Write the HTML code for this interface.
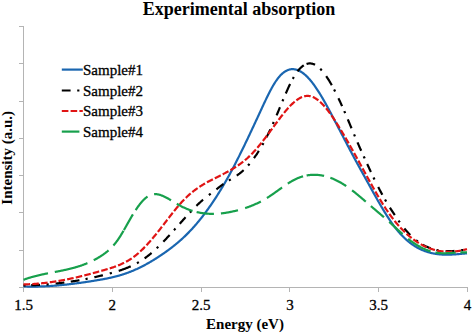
<!DOCTYPE html>
<html><head><meta charset="utf-8"><style>
html,body{margin:0;padding:0;background:#fff;width:472px;height:334px;overflow:hidden}
svg{display:block}
text{font-family:"Liberation Serif",serif}
.rt text{stroke:#000;stroke-width:0.3px;paint-order:stroke}
</style></head><body>
<svg width="472" height="334" viewBox="0 0 472 334">
<rect width="472" height="334" fill="#fff"/>
<text x="239.1" y="14.5" text-anchor="middle" font-weight="bold" font-size="18">Experimental absorption</text>
<g stroke="#b4b4b4" stroke-width="1" fill="none" shape-rendering="crispEdges">
<line x1="23.5" y1="26.5" x2="23.5" y2="287.5"/>
<line x1="23.5" y1="287.5" x2="467.5" y2="287.5"/>
<line x1="19" y1="26.50" x2="23.5" y2="26.50"/><line x1="19" y1="63.79" x2="23.5" y2="63.79"/><line x1="19" y1="101.07" x2="23.5" y2="101.07"/><line x1="19" y1="138.36" x2="23.5" y2="138.36"/><line x1="19" y1="175.64" x2="23.5" y2="175.64"/><line x1="19" y1="212.93" x2="23.5" y2="212.93"/><line x1="19" y1="250.21" x2="23.5" y2="250.21"/><line x1="19" y1="287.50" x2="23.5" y2="287.50"/><line x1="23.50" y1="287.5" x2="23.50" y2="292"/><line x1="112.30" y1="287.5" x2="112.30" y2="292"/><line x1="201.10" y1="287.5" x2="201.10" y2="292"/><line x1="289.90" y1="287.5" x2="289.90" y2="292"/><line x1="378.70" y1="287.5" x2="378.70" y2="292"/><line x1="467.50" y1="287.5" x2="467.50" y2="292"/>
</g>
<g class="rt" font-size="15" text-anchor="middle" fill="#000"><text x="23.50" y="310">1.5</text><text x="112.30" y="310">2</text><text x="201.10" y="310">2.5</text><text x="289.90" y="310">3</text><text x="378.70" y="310">3.5</text><text x="467.50" y="310">4</text></g>
<text x="245" y="329.2" text-anchor="middle" font-weight="bold" font-size="15">Energy (eV)</text>
<text transform="translate(12,157.8) rotate(-90)" text-anchor="middle" font-weight="bold" font-size="15">Intensity (a.u.)</text>
<g class="rt" font-size="15" fill="#000"><line x1="61.8" y1="69.6" x2="82.8" y2="69.6" stroke="#1a66b0" stroke-width="2.2"/><text x="83" y="75.0">Sample#1</text><line x1="61.8" y1="90.5" x2="82.8" y2="90.5" stroke="#000000" stroke-width="2.2" stroke-dasharray="8.8 6.6 2.2 6.6"/><text x="83" y="95.9">Sample#2</text><line x1="61.8" y1="111" x2="82.8" y2="111" stroke="#e01414" stroke-width="2.2" stroke-dasharray="6.6 2.2"/><text x="83" y="116.4">Sample#3</text><line x1="61.8" y1="131.6" x2="82.8" y2="131.6" stroke="#17a04c" stroke-width="2.2" stroke-dasharray="17.6 6.6"/><text x="83" y="137.0">Sample#4</text></g>
<g fill="none" stroke-width="2.2" stroke-linejoin="round">
<path d="M23.50,286.41 L24.00,286.43 L24.50,286.45 L25.00,286.46 L25.50,286.48 L26.00,286.50 L26.50,286.51 L27.00,286.52 L27.50,286.53 L28.00,286.54 L28.50,286.55 L29.00,286.56 L29.50,286.57 L30.00,286.57 L30.50,286.58 L31.00,286.58 L31.50,286.59 L32.00,286.59 L32.50,286.59 L33.00,286.59 L33.50,286.59 L34.00,286.59 L34.50,286.58 L35.00,286.58 L35.50,286.57 L36.00,286.57 L36.50,286.56 L37.00,286.55 L37.50,286.54 L38.00,286.53 L38.50,286.52 L39.00,286.51 L39.50,286.50 L40.00,286.48 L40.50,286.47 L41.00,286.45 L41.50,286.43 L42.00,286.42 L42.50,286.40 L43.00,286.38 L43.50,286.36 L44.00,286.34 L44.50,286.31 L45.00,286.29 L45.50,286.27 L46.00,286.24 L46.50,286.22 L47.00,286.19 L47.50,286.16 L48.00,286.14 L48.50,286.11 L49.00,286.08 L49.50,286.05 L50.00,286.01 L50.50,285.98 L51.00,285.95 L51.50,285.91 L52.00,285.88 L52.50,285.84 L53.00,285.81 L53.50,285.77 L54.00,285.73 L54.50,285.69 L55.00,285.66 L55.50,285.62 L56.00,285.57 L56.50,285.53 L57.00,285.49 L57.50,285.45 L58.00,285.40 L58.50,285.36 L59.00,285.31 L59.50,285.27 L60.00,285.22 L60.50,285.17 L61.00,285.13 L61.50,285.08 L62.00,285.03 L62.50,284.98 L63.00,284.93 L63.50,284.88 L64.00,284.83 L64.50,284.77 L65.00,284.72 L65.50,284.67 L66.00,284.61 L66.50,284.56 L67.00,284.50 L67.50,284.44 L68.00,284.39 L68.50,284.33 L69.00,284.27 L69.50,284.21 L70.00,284.15 L70.50,284.10 L71.00,284.03 L71.50,283.97 L72.00,283.91 L72.50,283.85 L73.00,283.79 L73.50,283.73 L74.00,283.66 L74.50,283.60 L75.00,283.53 L75.50,283.47 L76.00,283.40 L76.50,283.34 L77.00,283.27 L77.50,283.20 L78.00,283.14 L78.50,283.07 L79.00,283.00 L79.50,282.93 L80.00,282.86 L80.50,282.79 L81.00,282.72 L81.50,282.65 L82.00,282.58 L82.50,282.51 L83.00,282.44 L83.50,282.37 L84.00,282.29 L84.50,282.22 L85.00,282.15 L85.50,282.07 L86.00,282.00 L86.50,281.92 L87.00,281.85 L87.50,281.78 L88.00,281.70 L88.50,281.62 L89.00,281.55 L89.50,281.47 L90.00,281.39 L90.50,281.32 L91.00,281.24 L91.50,281.16 L92.00,281.08 L92.50,281.01 L93.00,280.93 L93.50,280.85 L94.00,280.77 L94.50,280.69 L95.00,280.61 L95.50,280.53 L96.00,280.45 L96.50,280.36 L97.00,280.28 L97.50,280.20 L98.00,280.12 L98.50,280.03 L99.00,279.95 L99.50,279.86 L100.00,279.77 L100.50,279.69 L101.00,279.60 L101.50,279.51 L102.00,279.42 L102.50,279.33 L103.00,279.24 L103.50,279.14 L104.00,279.05 L104.50,278.95 L105.00,278.86 L105.50,278.76 L106.00,278.66 L106.50,278.56 L107.00,278.46 L107.50,278.36 L108.00,278.25 L108.50,278.15 L109.00,278.04 L109.50,277.93 L110.00,277.83 L110.50,277.71 L111.00,277.60 L111.50,277.49 L112.00,277.37 L112.50,277.26 L113.00,277.14 L113.50,277.02 L114.00,276.90 L114.50,276.77 L115.00,276.65 L115.50,276.52 L116.00,276.39 L116.50,276.26 L117.00,276.13 L117.50,275.99 L118.00,275.85 L118.50,275.72 L119.00,275.58 L119.50,275.43 L120.00,275.29 L120.50,275.14 L121.00,274.99 L121.50,274.84 L122.00,274.69 L122.50,274.53 L123.00,274.37 L123.50,274.21 L124.00,274.05 L124.50,273.88 L125.00,273.71 L125.50,273.54 L126.00,273.37 L126.50,273.20 L127.00,273.02 L127.50,272.84 L128.00,272.66 L128.50,272.47 L129.00,272.28 L129.50,272.09 L130.00,271.90 L130.50,271.70 L131.00,271.50 L131.50,271.30 L132.00,271.10 L132.50,270.89 L133.00,270.68 L133.50,270.47 L134.00,270.25 L134.50,270.04 L135.00,269.82 L135.50,269.60 L136.00,269.37 L136.50,269.14 L137.00,268.92 L137.50,268.68 L138.00,268.45 L138.50,268.21 L139.00,267.97 L139.50,267.73 L140.00,267.49 L140.50,267.24 L141.00,266.99 L141.50,266.74 L142.00,266.49 L142.50,266.23 L143.00,265.97 L143.50,265.71 L144.00,265.45 L144.50,265.18 L145.00,264.92 L145.50,264.65 L146.00,264.38 L146.50,264.10 L147.00,263.82 L147.50,263.54 L148.00,263.26 L148.50,262.98 L149.00,262.69 L149.50,262.41 L150.00,262.12 L150.50,261.82 L151.00,261.53 L151.50,261.23 L152.00,260.93 L152.50,260.63 L153.00,260.33 L153.50,260.02 L154.00,259.72 L154.50,259.41 L155.00,259.10 L155.50,258.78 L156.00,258.47 L156.50,258.15 L157.00,257.83 L157.50,257.51 L158.00,257.18 L158.50,256.86 L159.00,256.53 L159.50,256.20 L160.00,255.87 L160.50,255.53 L161.00,255.20 L161.50,254.86 L162.00,254.52 L162.50,254.18 L163.00,253.83 L163.50,253.49 L164.00,253.14 L164.50,252.79 L165.00,252.44 L165.50,252.08 L166.00,251.73 L166.50,251.37 L167.00,251.01 L167.50,250.65 L168.00,250.28 L168.50,249.92 L169.00,249.55 L169.50,249.18 L170.00,248.80 L170.50,248.43 L171.00,248.05 L171.50,247.66 L172.00,247.28 L172.50,246.89 L173.00,246.50 L173.50,246.11 L174.00,245.71 L174.50,245.31 L175.00,244.91 L175.50,244.50 L176.00,244.09 L176.50,243.68 L177.00,243.26 L177.50,242.84 L178.00,242.42 L178.50,241.99 L179.00,241.56 L179.50,241.13 L180.00,240.69 L180.50,240.25 L181.00,239.81 L181.50,239.36 L182.00,238.91 L182.50,238.45 L183.00,237.99 L183.50,237.52 L184.00,237.05 L184.50,236.58 L185.00,236.10 L185.50,235.62 L186.00,235.14 L186.50,234.64 L187.00,234.15 L187.50,233.65 L188.00,233.15 L188.50,232.64 L189.00,232.12 L189.50,231.60 L190.00,231.08 L190.50,230.55 L191.00,230.02 L191.50,229.48 L192.00,228.94 L192.50,228.39 L193.00,227.84 L193.50,227.28 L194.00,226.72 L194.50,226.16 L195.00,225.58 L195.50,225.01 L196.00,224.43 L196.50,223.84 L197.00,223.25 L197.50,222.66 L198.00,222.06 L198.50,221.46 L199.00,220.85 L199.50,220.23 L200.00,219.61 L200.50,218.99 L201.00,218.36 L201.50,217.73 L202.00,217.09 L202.50,216.45 L203.00,215.80 L203.50,215.15 L204.00,214.50 L204.50,213.83 L205.00,213.17 L205.50,212.50 L206.00,211.82 L206.50,211.14 L207.00,210.46 L207.50,209.77 L208.00,209.07 L208.50,208.37 L209.00,207.67 L209.50,206.96 L210.00,206.25 L210.50,205.53 L211.00,204.80 L211.50,204.08 L212.00,203.34 L212.50,202.61 L213.00,201.86 L213.50,201.12 L214.00,200.37 L214.50,199.61 L215.00,198.85 L215.50,198.08 L216.00,197.31 L216.50,196.54 L217.00,195.75 L217.50,194.97 L218.00,194.18 L218.50,193.38 L219.00,192.58 L219.50,191.78 L220.00,190.97 L220.50,190.15 L221.00,189.33 L221.50,188.51 L222.00,187.68 L222.50,186.84 L223.00,186.00 L223.50,185.16 L224.00,184.30 L224.50,183.45 L225.00,182.59 L225.50,181.72 L226.00,180.85 L226.50,179.97 L227.00,179.09 L227.50,178.20 L228.00,177.31 L228.50,176.41 L229.00,175.51 L229.50,174.60 L230.00,173.69 L230.50,172.77 L231.00,171.84 L231.50,170.91 L232.00,169.98 L232.50,169.04 L233.00,168.09 L233.50,167.14 L234.00,166.18 L234.50,165.22 L235.00,164.25 L235.50,163.28 L236.00,162.31 L236.50,161.33 L237.00,160.34 L237.50,159.36 L238.00,158.37 L238.50,157.37 L239.00,156.37 L239.50,155.37 L240.00,154.36 L240.50,153.35 L241.00,152.34 L241.50,151.32 L242.00,150.30 L242.50,149.28 L243.00,148.26 L243.50,147.23 L244.00,146.20 L244.50,145.16 L245.00,144.13 L245.50,143.09 L246.00,142.05 L246.50,141.00 L247.00,139.96 L247.50,138.91 L248.00,137.86 L248.50,136.81 L249.00,135.75 L249.50,134.70 L250.00,133.64 L250.50,132.58 L251.00,131.52 L251.50,130.46 L252.00,129.39 L252.50,128.33 L253.00,127.26 L253.50,126.19 L254.00,125.12 L254.50,124.05 L255.00,122.97 L255.50,121.90 L256.00,120.83 L256.50,119.75 L257.00,118.67 L257.50,117.60 L258.00,116.52 L258.50,115.44 L259.00,114.36 L259.50,113.28 L260.00,112.20 L260.50,111.12 L261.00,110.04 L261.50,108.96 L262.00,107.88 L262.50,106.80 L263.00,105.72 L263.50,104.65 L264.00,103.58 L264.50,102.51 L265.00,101.45 L265.50,100.40 L266.00,99.35 L266.50,98.31 L267.00,97.28 L267.50,96.25 L268.00,95.24 L268.50,94.24 L269.00,93.25 L269.50,92.27 L270.00,91.30 L270.50,90.35 L271.00,89.41 L271.50,88.49 L272.00,87.58 L272.50,86.70 L273.00,85.82 L273.50,84.97 L274.00,84.14 L274.50,83.32 L275.00,82.53 L275.50,81.76 L276.00,81.01 L276.50,80.28 L277.00,79.57 L277.50,78.90 L278.00,78.24 L278.50,77.61 L279.00,77.01 L279.50,76.42 L280.00,75.86 L280.50,75.33 L281.00,74.82 L281.50,74.33 L282.00,73.87 L282.50,73.42 L283.00,73.00 L283.50,72.61 L284.00,72.23 L284.50,71.88 L285.00,71.55 L285.50,71.24 L286.00,70.96 L286.50,70.69 L287.00,70.45 L287.50,70.23 L288.00,70.03 L288.50,69.85 L289.00,69.69 L289.50,69.56 L290.00,69.44 L290.50,69.34 L291.00,69.27 L291.50,69.21 L292.00,69.18 L292.50,69.16 L293.00,69.17 L293.50,69.19 L294.00,69.23 L294.50,69.29 L295.00,69.37 L295.50,69.47 L296.00,69.59 L296.50,69.73 L297.00,69.88 L297.50,70.06 L298.00,70.25 L298.50,70.46 L299.00,70.68 L299.50,70.93 L300.00,71.19 L300.50,71.47 L301.00,71.76 L301.50,72.08 L302.00,72.41 L302.50,72.75 L303.00,73.12 L303.50,73.50 L304.00,73.89 L304.50,74.30 L305.00,74.73 L305.50,75.17 L306.00,75.63 L306.50,76.10 L307.00,76.59 L307.50,77.10 L308.00,77.62 L308.50,78.15 L309.00,78.70 L309.50,79.26 L310.00,79.84 L310.50,80.43 L311.00,81.03 L311.50,81.65 L312.00,82.28 L312.50,82.93 L313.00,83.58 L313.50,84.25 L314.00,84.94 L314.50,85.63 L315.00,86.34 L315.50,87.05 L316.00,87.78 L316.50,88.52 L317.00,89.27 L317.50,90.03 L318.00,90.80 L318.50,91.58 L319.00,92.37 L319.50,93.17 L320.00,93.98 L320.50,94.80 L321.00,95.62 L321.50,96.46 L322.00,97.30 L322.50,98.15 L323.00,99.01 L323.50,99.87 L324.00,100.74 L324.50,101.62 L325.00,102.51 L325.50,103.40 L326.00,104.30 L326.50,105.20 L327.00,106.11 L327.50,107.02 L328.00,107.94 L328.50,108.86 L329.00,109.79 L329.50,110.72 L330.00,111.66 L330.50,112.60 L331.00,113.54 L331.50,114.49 L332.00,115.44 L332.50,116.39 L333.00,117.34 L333.50,118.30 L334.00,119.25 L334.50,120.21 L335.00,121.17 L335.50,122.13 L336.00,123.09 L336.50,124.06 L337.00,125.02 L337.50,125.98 L338.00,126.94 L338.50,127.91 L339.00,128.87 L339.50,129.83 L340.00,130.79 L340.50,131.76 L341.00,132.72 L341.50,133.68 L342.00,134.64 L342.50,135.60 L343.00,136.56 L343.50,137.52 L344.00,138.48 L344.50,139.44 L345.00,140.40 L345.50,141.36 L346.00,142.31 L346.50,143.27 L347.00,144.22 L347.50,145.17 L348.00,146.13 L348.50,147.08 L349.00,148.02 L349.50,148.97 L350.00,149.92 L350.50,150.86 L351.00,151.81 L351.50,152.75 L352.00,153.69 L352.50,154.63 L353.00,155.56 L353.50,156.50 L354.00,157.43 L354.50,158.36 L355.00,159.29 L355.50,160.22 L356.00,161.14 L356.50,162.06 L357.00,162.98 L357.50,163.90 L358.00,164.82 L358.50,165.73 L359.00,166.64 L359.50,167.55 L360.00,168.46 L360.50,169.36 L361.00,170.27 L361.50,171.17 L362.00,172.08 L362.50,172.98 L363.00,173.88 L363.50,174.78 L364.00,175.68 L364.50,176.58 L365.00,177.49 L365.50,178.39 L366.00,179.29 L366.50,180.20 L367.00,181.10 L367.50,182.01 L368.00,182.91 L368.50,183.82 L369.00,184.73 L369.50,185.63 L370.00,186.54 L370.50,187.44 L371.00,188.35 L371.50,189.25 L372.00,190.15 L372.50,191.05 L373.00,191.95 L373.50,192.85 L374.00,193.75 L374.50,194.64 L375.00,195.53 L375.50,196.42 L376.00,197.31 L376.50,198.20 L377.00,199.08 L377.50,199.96 L378.00,200.83 L378.50,201.70 L379.00,202.57 L379.50,203.44 L380.00,204.30 L380.50,205.15 L381.00,206.00 L381.50,206.85 L382.00,207.70 L382.50,208.53 L383.00,209.37 L383.50,210.19 L384.00,211.02 L384.50,211.83 L385.00,212.64 L385.50,213.45 L386.00,214.25 L386.50,215.04 L387.00,215.83 L387.50,216.61 L388.00,217.38 L388.50,218.14 L389.00,218.90 L389.50,219.65 L390.00,220.40 L390.50,221.13 L391.00,221.86 L391.50,222.58 L392.00,223.29 L392.50,223.99 L393.00,224.69 L393.50,225.37 L394.00,226.05 L394.50,226.72 L395.00,227.37 L395.50,228.02 L396.00,228.66 L396.50,229.29 L397.00,229.91 L397.50,230.52 L398.00,231.11 L398.50,231.70 L399.00,232.28 L399.50,232.85 L400.00,233.42 L400.50,233.97 L401.00,234.51 L401.50,235.04 L402.00,235.57 L402.50,236.08 L403.00,236.59 L403.50,237.09 L404.00,237.58 L404.50,238.06 L405.00,238.53 L405.50,238.99 L406.00,239.44 L406.50,239.89 L407.00,240.33 L407.50,240.76 L408.00,241.18 L408.50,241.59 L409.00,242.00 L409.50,242.39 L410.00,242.78 L410.50,243.16 L411.00,243.54 L411.50,243.90 L412.00,244.26 L412.50,244.61 L413.00,244.95 L413.50,245.29 L414.00,245.62 L414.50,245.94 L415.00,246.25 L415.50,246.56 L416.00,246.86 L416.50,247.15 L417.00,247.44 L417.50,247.72 L418.00,247.99 L418.50,248.26 L419.00,248.52 L419.50,248.77 L420.00,249.02 L420.50,249.26 L421.00,249.49 L421.50,249.72 L422.00,249.94 L422.50,250.15 L423.00,250.36 L423.50,250.57 L424.00,250.76 L424.50,250.95 L425.00,251.14 L425.50,251.32 L426.00,251.50 L426.50,251.66 L427.00,251.83 L427.50,251.99 L428.00,252.14 L428.50,252.29 L429.00,252.43 L429.50,252.56 L430.00,252.70 L430.50,252.82 L431.00,252.95 L431.50,253.06 L432.00,253.18 L432.50,253.28 L433.00,253.39 L433.50,253.49 L434.00,253.58 L434.50,253.67 L435.00,253.75 L435.50,253.83 L436.00,253.91 L436.50,253.98 L437.00,254.05 L437.50,254.12 L438.00,254.18 L438.50,254.23 L439.00,254.29 L439.50,254.34 L440.00,254.38 L440.50,254.42 L441.00,254.46 L441.50,254.50 L442.00,254.53 L442.50,254.55 L443.00,254.58 L443.50,254.60 L444.00,254.62 L444.50,254.63 L445.00,254.65 L445.50,254.66 L446.00,254.66 L446.50,254.67 L447.00,254.67 L447.50,254.67 L448.00,254.66 L448.50,254.66 L449.00,254.65 L449.50,254.64 L450.00,254.62 L450.50,254.61 L451.00,254.59 L451.50,254.57 L452.00,254.55 L452.50,254.52 L453.00,254.49 L453.50,254.47 L454.00,254.44 L454.50,254.41 L455.00,254.37 L455.50,254.34 L456.00,254.30 L456.50,254.27 L457.00,254.23 L457.50,254.19 L458.00,254.15 L458.50,254.10 L459.00,254.06 L459.50,254.02 L460.00,253.97 L460.50,253.93 L461.00,253.88 L461.50,253.83 L462.00,253.78 L462.50,253.74 L463.00,253.69 L463.50,253.64 L464.00,253.59 L464.50,253.54 L465.00,253.49 L465.50,253.44 L466.00,253.39 L466.50,253.34 L467.00,253.29" stroke="#1a66b0"/>
<path d="M23.50,285.34 L24.00,285.34 L24.50,285.33 L25.00,285.33 L25.50,285.32 L26.00,285.32 L26.50,285.31 L27.00,285.30 L27.50,285.29 L28.00,285.29 L28.50,285.28 L29.00,285.26 L29.50,285.25 L30.00,285.24 L30.50,285.23 L31.00,285.21 L31.50,285.20 L32.00,285.18 L32.50,285.17 L33.00,285.15 L33.50,285.13 L34.00,285.11 L34.50,285.09 L35.00,285.07 L35.50,285.05 L36.00,285.03 L36.50,285.01 L37.00,284.99 L37.50,284.96 L38.00,284.94 L38.50,284.91 L39.00,284.89 L39.50,284.86 L40.00,284.83 L40.50,284.80 L41.00,284.77 L41.50,284.74 L42.00,284.71 L42.50,284.68 L43.00,284.65 L43.50,284.61 L44.00,284.58 L44.50,284.55 L45.00,284.51 L45.50,284.47 L46.00,284.44 L46.50,284.40 L47.00,284.36 L47.50,284.32 L48.00,284.28 L48.50,284.24 L49.00,284.20 L49.50,284.15 L50.00,284.11 L50.50,284.07 L51.00,284.02 L51.50,283.98 L52.00,283.93 L52.50,283.88 L53.00,283.84 L53.50,283.79 L54.00,283.74 L54.50,283.69 L55.00,283.64 L55.50,283.59 L56.00,283.53 L56.50,283.48 L57.00,283.43 L57.50,283.37 L58.00,283.32 L58.50,283.26 L59.00,283.20 L59.50,283.14 L60.00,283.09 L60.50,283.03 L61.00,282.97 L61.50,282.90 L62.00,282.84 L62.50,282.78 L63.00,282.72 L63.50,282.65 L64.00,282.59 L64.50,282.52 L65.00,282.46 L65.50,282.39 L66.00,282.32 L66.50,282.25 L67.00,282.18 L67.50,282.11 L68.00,282.04 L68.50,281.97 L69.00,281.90 L69.50,281.83 L70.00,281.75 L70.50,281.68 L71.00,281.60 L71.50,281.53 L72.00,281.45 L72.50,281.37 L73.00,281.29 L73.50,281.21 L74.00,281.13 L74.50,281.05 L75.00,280.97 L75.50,280.89 L76.00,280.81 L76.50,280.72 L77.00,280.64 L77.50,280.55 L78.00,280.47 L78.50,280.38 L79.00,280.29 L79.50,280.20 L80.00,280.11 L80.50,280.02 L81.00,279.93 L81.50,279.84 L82.00,279.75 L82.50,279.66 L83.00,279.56 L83.50,279.47 L84.00,279.37 L84.50,279.28 L85.00,279.18 L85.50,279.08 L86.00,278.98 L86.50,278.88 L87.00,278.78 L87.50,278.68 L88.00,278.58 L88.50,278.48 L89.00,278.38 L89.50,278.27 L90.00,278.17 L90.50,278.06 L91.00,277.96 L91.50,277.85 L92.00,277.74 L92.50,277.63 L93.00,277.53 L93.50,277.42 L94.00,277.30 L94.50,277.19 L95.00,277.08 L95.50,276.97 L96.00,276.86 L96.50,276.74 L97.00,276.63 L97.50,276.51 L98.00,276.39 L98.50,276.28 L99.00,276.16 L99.50,276.04 L100.00,275.92 L100.50,275.80 L101.00,275.68 L101.50,275.56 L102.00,275.43 L102.50,275.31 L103.00,275.18 L103.50,275.06 L104.00,274.93 L104.50,274.81 L105.00,274.68 L105.50,274.55 L106.00,274.42 L106.50,274.29 L107.00,274.16 L107.50,274.03 L108.00,273.90 L108.50,273.77 L109.00,273.63 L109.50,273.50 L110.00,273.37 L110.50,273.23 L111.00,273.09 L111.50,272.96 L112.00,272.82 L112.50,272.68 L113.00,272.54 L113.50,272.40 L114.00,272.26 L114.50,272.11 L115.00,271.97 L115.50,271.82 L116.00,271.67 L116.50,271.52 L117.00,271.37 L117.50,271.22 L118.00,271.06 L118.50,270.91 L119.00,270.75 L119.50,270.59 L120.00,270.43 L120.50,270.26 L121.00,270.09 L121.50,269.92 L122.00,269.75 L122.50,269.58 L123.00,269.40 L123.50,269.22 L124.00,269.04 L124.50,268.86 L125.00,268.67 L125.50,268.48 L126.00,268.29 L126.50,268.09 L127.00,267.89 L127.50,267.69 L128.00,267.49 L128.50,267.28 L129.00,267.07 L129.50,266.85 L130.00,266.63 L130.50,266.41 L131.00,266.18 L131.50,265.96 L132.00,265.72 L132.50,265.48 L133.00,265.24 L133.50,265.00 L134.00,264.75 L134.50,264.50 L135.00,264.24 L135.50,263.98 L136.00,263.71 L136.50,263.44 L137.00,263.17 L137.50,262.89 L138.00,262.60 L138.50,262.31 L139.00,262.02 L139.50,261.72 L140.00,261.42 L140.50,261.11 L141.00,260.80 L141.50,260.48 L142.00,260.15 L142.50,259.82 L143.00,259.49 L143.50,259.15 L144.00,258.80 L144.50,258.45 L145.00,258.10 L145.50,257.74 L146.00,257.37 L146.50,256.99 L147.00,256.62 L147.50,256.23 L148.00,255.84 L148.50,255.45 L149.00,255.05 L149.50,254.64 L150.00,254.23 L150.50,253.81 L151.00,253.39 L151.50,252.97 L152.00,252.54 L152.50,252.11 L153.00,251.67 L153.50,251.22 L154.00,250.78 L154.50,250.32 L155.00,249.87 L155.50,249.41 L156.00,248.94 L156.50,248.47 L157.00,248.00 L157.50,247.53 L158.00,247.05 L158.50,246.56 L159.00,246.07 L159.50,245.58 L160.00,245.09 L160.50,244.59 L161.00,244.09 L161.50,243.59 L162.00,243.08 L162.50,242.57 L163.00,242.06 L163.50,241.54 L164.00,241.03 L164.50,240.50 L165.00,239.98 L165.50,239.45 L166.00,238.93 L166.50,238.39 L167.00,237.86 L167.50,237.33 L168.00,236.79 L168.50,236.25 L169.00,235.71 L169.50,235.16 L170.00,234.62 L170.50,234.07 L171.00,233.52 L171.50,232.97 L172.00,232.42 L172.50,231.87 L173.00,231.31 L173.50,230.76 L174.00,230.20 L174.50,229.64 L175.00,229.09 L175.50,228.53 L176.00,227.97 L176.50,227.40 L177.00,226.84 L177.50,226.28 L178.00,225.72 L178.50,225.16 L179.00,224.59 L179.50,224.03 L180.00,223.47 L180.50,222.91 L181.00,222.35 L181.50,221.78 L182.00,221.22 L182.50,220.66 L183.00,220.11 L183.50,219.55 L184.00,218.99 L184.50,218.44 L185.00,217.88 L185.50,217.33 L186.00,216.78 L186.50,216.23 L187.00,215.68 L187.50,215.13 L188.00,214.59 L188.50,214.05 L189.00,213.51 L189.50,212.97 L190.00,212.44 L190.50,211.91 L191.00,211.38 L191.50,210.85 L192.00,210.33 L192.50,209.81 L193.00,209.29 L193.50,208.78 L194.00,208.26 L194.50,207.76 L195.00,207.25 L195.50,206.75 L196.00,206.26 L196.50,205.77 L197.00,205.28 L197.50,204.80 L198.00,204.32 L198.50,203.84 L199.00,203.37 L199.50,202.91 L200.00,202.45 L200.50,201.99 L201.00,201.54 L201.50,201.10 L202.00,200.66 L202.50,200.22 L203.00,199.79 L203.50,199.37 L204.00,198.95 L204.50,198.54 L205.00,198.13 L205.50,197.73 L206.00,197.33 L206.50,196.93 L207.00,196.54 L207.50,196.15 L208.00,195.76 L208.50,195.38 L209.00,195.00 L209.50,194.62 L210.00,194.24 L210.50,193.86 L211.00,193.48 L211.50,193.11 L212.00,192.73 L212.50,192.36 L213.00,191.98 L213.50,191.60 L214.00,191.22 L214.50,190.84 L215.00,190.46 L215.50,190.08 L216.00,189.69 L216.50,189.30 L217.00,188.91 L217.50,188.51 L218.00,188.12 L218.50,187.72 L219.00,187.32 L219.50,186.93 L220.00,186.54 L220.50,186.15 L221.00,185.77 L221.50,185.40 L222.00,185.03 L222.50,184.67 L223.00,184.31 L223.50,183.97 L224.00,183.63 L224.50,183.29 L225.00,182.96 L225.50,182.63 L226.00,182.31 L226.50,181.99 L227.00,181.68 L227.50,181.37 L228.00,181.06 L228.50,180.75 L229.00,180.44 L229.50,180.14 L230.00,179.84 L230.50,179.53 L231.00,179.23 L231.50,178.92 L232.00,178.62 L232.50,178.31 L233.00,178.00 L233.50,177.69 L234.00,177.37 L234.50,177.06 L235.00,176.73 L235.50,176.41 L236.00,176.08 L236.50,175.74 L237.00,175.40 L237.50,175.05 L238.00,174.70 L238.50,174.34 L239.00,173.97 L239.50,173.60 L240.00,173.21 L240.50,172.82 L241.00,172.42 L241.50,172.01 L242.00,171.59 L242.50,171.16 L243.00,170.71 L243.50,170.26 L244.00,169.80 L244.50,169.32 L245.00,168.83 L245.50,168.33 L246.00,167.82 L246.50,167.29 L247.00,166.76 L247.50,166.21 L248.00,165.65 L248.50,165.09 L249.00,164.51 L249.50,163.91 L250.00,163.31 L250.50,162.70 L251.00,162.07 L251.50,161.44 L252.00,160.79 L252.50,160.14 L253.00,159.47 L253.50,158.79 L254.00,158.10 L254.50,157.41 L255.00,156.70 L255.50,155.98 L256.00,155.25 L256.50,154.51 L257.00,153.77 L257.50,153.01 L258.00,152.24 L258.50,151.46 L259.00,150.67 L259.50,149.87 L260.00,149.05 L260.50,148.23 L261.00,147.39 L261.50,146.54 L262.00,145.68 L262.50,144.80 L263.00,143.92 L263.50,143.02 L264.00,142.10 L264.50,141.18 L265.00,140.24 L265.50,139.29 L266.00,138.33 L266.50,137.36 L267.00,136.37 L267.50,135.37 L268.00,134.37 L268.50,133.34 L269.00,132.31 L269.50,131.27 L270.00,130.21 L270.50,129.15 L271.00,128.07 L271.50,126.99 L272.00,125.89 L272.50,124.78 L273.00,123.66 L273.50,122.53 L274.00,121.39 L274.50,120.24 L275.00,119.09 L275.50,117.92 L276.00,116.75 L276.50,115.57 L277.00,114.39 L277.50,113.20 L278.00,112.00 L278.50,110.81 L279.00,109.61 L279.50,108.41 L280.00,107.20 L280.50,106.00 L281.00,104.80 L281.50,103.60 L282.00,102.40 L282.50,101.20 L283.00,100.01 L283.50,98.82 L284.00,97.64 L284.50,96.46 L285.00,95.29 L285.50,94.14 L286.00,92.99 L286.50,91.85 L287.00,90.72 L287.50,89.60 L288.00,88.50 L288.50,87.41 L289.00,86.34 L289.50,85.28 L290.00,84.24 L290.50,83.22 L291.00,82.22 L291.50,81.24 L292.00,80.28 L292.50,79.35 L293.00,78.43 L293.50,77.55 L294.00,76.69 L294.50,75.86 L295.00,75.05 L295.50,74.27 L296.00,73.52 L296.50,72.80 L297.00,72.11 L297.50,71.44 L298.00,70.80 L298.50,70.18 L299.00,69.59 L299.50,69.03 L300.00,68.50 L300.50,67.99 L301.00,67.51 L301.50,67.06 L302.00,66.64 L302.50,66.24 L303.00,65.86 L303.50,65.52 L304.00,65.20 L304.50,64.91 L305.00,64.64 L305.50,64.40 L306.00,64.19 L306.50,64.00 L307.00,63.84 L307.50,63.71 L308.00,63.60 L308.50,63.52 L309.00,63.46 L309.50,63.43 L310.00,63.43 L310.50,63.45 L311.00,63.50 L311.50,63.58 L312.00,63.68 L312.50,63.80 L313.00,63.95 L313.50,64.13 L314.00,64.33 L314.50,64.56 L315.00,64.81 L315.50,65.08 L316.00,65.38 L316.50,65.71 L317.00,66.05 L317.50,66.42 L318.00,66.81 L318.50,67.22 L319.00,67.65 L319.50,68.11 L320.00,68.59 L320.50,69.08 L321.00,69.60 L321.50,70.14 L322.00,70.70 L322.50,71.28 L323.00,71.88 L323.50,72.49 L324.00,73.13 L324.50,73.78 L325.00,74.45 L325.50,75.14 L326.00,75.85 L326.50,76.57 L327.00,77.31 L327.50,78.07 L328.00,78.85 L328.50,79.64 L329.00,80.44 L329.50,81.26 L330.00,82.10 L330.50,82.95 L331.00,83.82 L331.50,84.70 L332.00,85.59 L332.50,86.50 L333.00,87.42 L333.50,88.35 L334.00,89.30 L334.50,90.26 L335.00,91.23 L335.50,92.22 L336.00,93.21 L336.50,94.22 L337.00,95.24 L337.50,96.27 L338.00,97.31 L338.50,98.36 L339.00,99.42 L339.50,100.48 L340.00,101.56 L340.50,102.65 L341.00,103.75 L341.50,104.85 L342.00,105.97 L342.50,107.09 L343.00,108.22 L343.50,109.36 L344.00,110.50 L344.50,111.65 L345.00,112.81 L345.50,113.97 L346.00,115.14 L346.50,116.31 L347.00,117.49 L347.50,118.67 L348.00,119.86 L348.50,121.05 L349.00,122.24 L349.50,123.43 L350.00,124.63 L350.50,125.83 L351.00,127.02 L351.50,128.22 L352.00,129.42 L352.50,130.61 L353.00,131.80 L353.50,132.99 L354.00,134.18 L354.50,135.37 L355.00,136.55 L355.50,137.73 L356.00,138.90 L356.50,140.07 L357.00,141.23 L357.50,142.39 L358.00,143.54 L358.50,144.68 L359.00,145.82 L359.50,146.95 L360.00,148.08 L360.50,149.20 L361.00,150.32 L361.50,151.43 L362.00,152.54 L362.50,153.65 L363.00,154.76 L363.50,155.86 L364.00,156.97 L364.50,158.07 L365.00,159.17 L365.50,160.27 L366.00,161.36 L366.50,162.46 L367.00,163.55 L367.50,164.65 L368.00,165.73 L368.50,166.82 L369.00,167.90 L369.50,168.98 L370.00,170.06 L370.50,171.13 L371.00,172.20 L371.50,173.27 L372.00,174.33 L372.50,175.38 L373.00,176.43 L373.50,177.48 L374.00,178.51 L374.50,179.55 L375.00,180.57 L375.50,181.59 L376.00,182.60 L376.50,183.61 L377.00,184.60 L377.50,185.59 L378.00,186.58 L378.50,187.55 L379.00,188.52 L379.50,189.48 L380.00,190.43 L380.50,191.37 L381.00,192.31 L381.50,193.24 L382.00,194.15 L382.50,195.06 L383.00,195.97 L383.50,196.86 L384.00,197.74 L384.50,198.62 L385.00,199.49 L385.50,200.35 L386.00,201.20 L386.50,202.05 L387.00,202.89 L387.50,203.72 L388.00,204.54 L388.50,205.36 L389.00,206.17 L389.50,206.97 L390.00,207.76 L390.50,208.55 L391.00,209.33 L391.50,210.11 L392.00,210.88 L392.50,211.65 L393.00,212.41 L393.50,213.16 L394.00,213.92 L394.50,214.67 L395.00,215.42 L395.50,216.16 L396.00,216.91 L396.50,217.64 L397.00,218.38 L397.50,219.11 L398.00,219.83 L398.50,220.55 L399.00,221.27 L399.50,221.97 L400.00,222.67 L400.50,223.37 L401.00,224.05 L401.50,224.73 L402.00,225.40 L402.50,226.06 L403.00,226.71 L403.50,227.35 L404.00,227.97 L404.50,228.59 L405.00,229.20 L405.50,229.80 L406.00,230.39 L406.50,230.97 L407.00,231.53 L407.50,232.09 L408.00,232.64 L408.50,233.18 L409.00,233.70 L409.50,234.22 L410.00,234.73 L410.50,235.23 L411.00,235.72 L411.50,236.20 L412.00,236.67 L412.50,237.13 L413.00,237.59 L413.50,238.03 L414.00,238.47 L414.50,238.89 L415.00,239.31 L415.50,239.72 L416.00,240.12 L416.50,240.51 L417.00,240.89 L417.50,241.26 L418.00,241.63 L418.50,241.98 L419.00,242.33 L419.50,242.67 L420.00,243.01 L420.50,243.33 L421.00,243.65 L421.50,243.96 L422.00,244.26 L422.50,244.55 L423.00,244.84 L423.50,245.12 L424.00,245.39 L424.50,245.65 L425.00,245.91 L425.50,246.16 L426.00,246.40 L426.50,246.63 L427.00,246.86 L427.50,247.08 L428.00,247.30 L428.50,247.51 L429.00,247.71 L429.50,247.90 L430.00,248.09 L430.50,248.27 L431.00,248.44 L431.50,248.61 L432.00,248.78 L432.50,248.93 L433.00,249.08 L433.50,249.23 L434.00,249.37 L434.50,249.50 L435.00,249.62 L435.50,249.75 L436.00,249.86 L436.50,249.97 L437.00,250.08 L437.50,250.18 L438.00,250.27 L438.50,250.36 L439.00,250.44 L439.50,250.52 L440.00,250.60 L440.50,250.67 L441.00,250.73 L441.50,250.79 L442.00,250.84 L442.50,250.89 L443.00,250.94 L443.50,250.98 L444.00,251.02 L444.50,251.05 L445.00,251.08 L445.50,251.10 L446.00,251.12 L446.50,251.14 L447.00,251.15 L447.50,251.16 L448.00,251.17 L448.50,251.17 L449.00,251.17 L449.50,251.16 L450.00,251.15 L450.50,251.14 L451.00,251.13 L451.50,251.11 L452.00,251.09 L452.50,251.06 L453.00,251.03 L453.50,251.00 L454.00,250.97 L454.50,250.93 L455.00,250.89 L455.50,250.85 L456.00,250.81 L456.50,250.76 L457.00,250.72 L457.50,250.67 L458.00,250.61 L458.50,250.56 L459.00,250.50 L459.50,250.44 L460.00,250.38 L460.50,250.32 L461.00,250.26 L461.50,250.19 L462.00,250.12 L462.50,250.05 L463.00,249.98 L463.50,249.91 L464.00,249.84 L464.50,249.77 L465.00,249.69 L465.50,249.62 L466.00,249.54 L466.50,249.46 L467.00,249.38" stroke="#000000" stroke-dasharray="0.00 0.00 2.10 5.61 8.80 6.52 2.20 6.96 8.80 6.45 8.80 6.19 2.20 6.84 8.80 7.03 2.20 7.13 12.83 6.98 2.20 6.89 8.80 6.94 2.20 7.23 9.05 6.50 2.20 6.44 8.80 6.29 2.20 7.20 9.10 7.46 2.20 7.19 8.93 6.37 2.20 7.12 8.80 6.36 2.20 7.19 8.80 6.85 2.20 6.58 8.80 5.96 2.20 7.23 8.81 6.44 2.20 6.29 10.35 5.82 2.20 6.67 8.80 3.02 8.80 6.57 2.20 7.26 10.68 4.83 2.20 7.50 8.80 5.40 2.20 6.81 9.58 6.65 2.20 6.53 9.16 6.19 2.20 6.14 8.81 6.12 2.20 8.33 8.80 5.55 2.20 7.28 8.80 6.60 2.20 7.69 8.80 7.87 2.20 5.79 8.80 5.92 2.20 7.06 8.80 6.85 2.20 53.65"/>
<path d="M23.50,284.40 L24.00,284.39 L24.50,284.38 L25.00,284.37 L25.50,284.36 L26.00,284.34 L26.50,284.33 L27.00,284.31 L27.50,284.29 L28.00,284.27 L28.50,284.25 L29.00,284.23 L29.50,284.21 L30.00,284.19 L30.50,284.16 L31.00,284.13 L31.50,284.11 L32.00,284.08 L32.50,284.05 L33.00,284.02 L33.50,283.98 L34.00,283.95 L34.50,283.92 L35.00,283.88 L35.50,283.84 L36.00,283.80 L36.50,283.76 L37.00,283.72 L37.50,283.68 L38.00,283.64 L38.50,283.60 L39.00,283.55 L39.50,283.50 L40.00,283.46 L40.50,283.41 L41.00,283.36 L41.50,283.31 L42.00,283.26 L42.50,283.20 L43.00,283.15 L43.50,283.09 L44.00,283.04 L44.50,282.98 L45.00,282.92 L45.50,282.86 L46.00,282.80 L46.50,282.74 L47.00,282.68 L47.50,282.61 L48.00,282.55 L48.50,282.48 L49.00,282.42 L49.50,282.35 L50.00,282.28 L50.50,282.21 L51.00,282.14 L51.50,282.07 L52.00,281.99 L52.50,281.92 L53.00,281.85 L53.50,281.77 L54.00,281.69 L54.50,281.62 L55.00,281.54 L55.50,281.46 L56.00,281.38 L56.50,281.30 L57.00,281.21 L57.50,281.13 L58.00,281.05 L58.50,280.96 L59.00,280.87 L59.50,280.79 L60.00,280.70 L60.50,280.61 L61.00,280.52 L61.50,280.43 L62.00,280.34 L62.50,280.25 L63.00,280.15 L63.50,280.06 L64.00,279.96 L64.50,279.87 L65.00,279.77 L65.50,279.68 L66.00,279.58 L66.50,279.48 L67.00,279.38 L67.50,279.28 L68.00,279.18 L68.50,279.07 L69.00,278.97 L69.50,278.87 L70.00,278.76 L70.50,278.66 L71.00,278.55 L71.50,278.44 L72.00,278.34 L72.50,278.23 L73.00,278.12 L73.50,278.01 L74.00,277.90 L74.50,277.78 L75.00,277.67 L75.50,277.56 L76.00,277.45 L76.50,277.33 L77.00,277.22 L77.50,277.10 L78.00,276.98 L78.50,276.87 L79.00,276.75 L79.50,276.63 L80.00,276.51 L80.50,276.39 L81.00,276.27 L81.50,276.15 L82.00,276.03 L82.50,275.90 L83.00,275.78 L83.50,275.66 L84.00,275.53 L84.50,275.41 L85.00,275.28 L85.50,275.16 L86.00,275.03 L86.50,274.90 L87.00,274.77 L87.50,274.64 L88.00,274.51 L88.50,274.39 L89.00,274.25 L89.50,274.12 L90.00,273.99 L90.50,273.86 L91.00,273.73 L91.50,273.59 L92.00,273.46 L92.50,273.33 L93.00,273.19 L93.50,273.06 L94.00,272.92 L94.50,272.78 L95.00,272.65 L95.50,272.51 L96.00,272.37 L96.50,272.23 L97.00,272.09 L97.50,271.95 L98.00,271.81 L98.50,271.67 L99.00,271.53 L99.50,271.39 L100.00,271.25 L100.50,271.11 L101.00,270.96 L101.50,270.82 L102.00,270.68 L102.50,270.53 L103.00,270.39 L103.50,270.25 L104.00,270.10 L104.50,269.95 L105.00,269.81 L105.50,269.66 L106.00,269.52 L106.50,269.37 L107.00,269.22 L107.50,269.07 L108.00,268.92 L108.50,268.77 L109.00,268.62 L109.50,268.46 L110.00,268.31 L110.50,268.15 L111.00,267.99 L111.50,267.83 L112.00,267.67 L112.50,267.51 L113.00,267.34 L113.50,267.17 L114.00,267.00 L114.50,266.82 L115.00,266.65 L115.50,266.47 L116.00,266.28 L116.50,266.10 L117.00,265.91 L117.50,265.72 L118.00,265.52 L118.50,265.32 L119.00,265.12 L119.50,264.91 L120.00,264.70 L120.50,264.49 L121.00,264.27 L121.50,264.05 L122.00,263.82 L122.50,263.59 L123.00,263.35 L123.50,263.11 L124.00,262.87 L124.50,262.61 L125.00,262.36 L125.50,262.10 L126.00,261.83 L126.50,261.56 L127.00,261.28 L127.50,261.00 L128.00,260.71 L128.50,260.41 L129.00,260.11 L129.50,259.80 L130.00,259.49 L130.50,259.17 L131.00,258.84 L131.50,258.51 L132.00,258.16 L132.50,257.82 L133.00,257.46 L133.50,257.10 L134.00,256.73 L134.50,256.35 L135.00,255.97 L135.50,255.58 L136.00,255.18 L136.50,254.77 L137.00,254.36 L137.50,253.94 L138.00,253.51 L138.50,253.07 L139.00,252.63 L139.50,252.18 L140.00,251.72 L140.50,251.26 L141.00,250.79 L141.50,250.32 L142.00,249.83 L142.50,249.35 L143.00,248.85 L143.50,248.35 L144.00,247.85 L144.50,247.34 L145.00,246.82 L145.50,246.30 L146.00,245.77 L146.50,245.23 L147.00,244.70 L147.50,244.15 L148.00,243.60 L148.50,243.05 L149.00,242.49 L149.50,241.93 L150.00,241.36 L150.50,240.79 L151.00,240.21 L151.50,239.63 L152.00,239.05 L152.50,238.46 L153.00,237.87 L153.50,237.27 L154.00,236.67 L154.50,236.07 L155.00,235.46 L155.50,234.85 L156.00,234.23 L156.50,233.62 L157.00,233.00 L157.50,232.38 L158.00,231.75 L158.50,231.12 L159.00,230.49 L159.50,229.86 L160.00,229.22 L160.50,228.58 L161.00,227.94 L161.50,227.30 L162.00,226.66 L162.50,226.01 L163.00,225.36 L163.50,224.72 L164.00,224.07 L164.50,223.42 L165.00,222.77 L165.50,222.12 L166.00,221.47 L166.50,220.82 L167.00,220.17 L167.50,219.52 L168.00,218.87 L168.50,218.22 L169.00,217.58 L169.50,216.93 L170.00,216.29 L170.50,215.65 L171.00,215.01 L171.50,214.37 L172.00,213.73 L172.50,213.10 L173.00,212.47 L173.50,211.84 L174.00,211.22 L174.50,210.60 L175.00,209.98 L175.50,209.37 L176.00,208.76 L176.50,208.15 L177.00,207.55 L177.50,206.95 L178.00,206.36 L178.50,205.77 L179.00,205.19 L179.50,204.61 L180.00,204.04 L180.50,203.47 L181.00,202.91 L181.50,202.36 L182.00,201.81 L182.50,201.27 L183.00,200.73 L183.50,200.21 L184.00,199.68 L184.50,199.17 L185.00,198.66 L185.50,198.17 L186.00,197.68 L186.50,197.19 L187.00,196.72 L187.50,196.25 L188.00,195.78 L188.50,195.33 L189.00,194.88 L189.50,194.44 L190.00,194.01 L190.50,193.58 L191.00,193.16 L191.50,192.74 L192.00,192.33 L192.50,191.93 L193.00,191.53 L193.50,191.14 L194.00,190.75 L194.50,190.37 L195.00,190.00 L195.50,189.63 L196.00,189.26 L196.50,188.91 L197.00,188.55 L197.50,188.20 L198.00,187.86 L198.50,187.52 L199.00,187.18 L199.50,186.85 L200.00,186.53 L200.50,186.20 L201.00,185.88 L201.50,185.57 L202.00,185.26 L202.50,184.95 L203.00,184.65 L203.50,184.35 L204.00,184.05 L204.50,183.76 L205.00,183.47 L205.50,183.18 L206.00,182.90 L206.50,182.62 L207.00,182.34 L207.50,182.07 L208.00,181.79 L208.50,181.52 L209.00,181.25 L209.50,180.98 L210.00,180.72 L210.50,180.46 L211.00,180.20 L211.50,179.94 L212.00,179.68 L212.50,179.42 L213.00,179.17 L213.50,178.91 L214.00,178.66 L214.50,178.41 L215.00,178.15 L215.50,177.90 L216.00,177.65 L216.50,177.40 L217.00,177.15 L217.50,176.91 L218.00,176.66 L218.50,176.41 L219.00,176.16 L219.50,175.91 L220.00,175.66 L220.50,175.41 L221.00,175.16 L221.50,174.91 L222.00,174.66 L222.50,174.40 L223.00,174.15 L223.50,173.89 L224.00,173.64 L224.50,173.38 L225.00,173.12 L225.50,172.86 L226.00,172.60 L226.50,172.33 L227.00,172.06 L227.50,171.80 L228.00,171.52 L228.50,171.25 L229.00,170.98 L229.50,170.70 L230.00,170.42 L230.50,170.13 L231.00,169.85 L231.50,169.56 L232.00,169.26 L232.50,168.97 L233.00,168.67 L233.50,168.37 L234.00,168.06 L234.50,167.75 L235.00,167.43 L235.50,167.12 L236.00,166.80 L236.50,166.47 L237.00,166.14 L237.50,165.80 L238.00,165.47 L238.50,165.12 L239.00,164.77 L239.50,164.42 L240.00,164.06 L240.50,163.70 L241.00,163.33 L241.50,162.96 L242.00,162.58 L242.50,162.19 L243.00,161.80 L243.50,161.41 L244.00,161.00 L244.50,160.60 L245.00,160.18 L245.50,159.76 L246.00,159.34 L246.50,158.90 L247.00,158.47 L247.50,158.02 L248.00,157.57 L248.50,157.11 L249.00,156.64 L249.50,156.17 L250.00,155.69 L250.50,155.20 L251.00,154.70 L251.50,154.20 L252.00,153.69 L252.50,153.17 L253.00,152.65 L253.50,152.11 L254.00,151.57 L254.50,151.03 L255.00,150.47 L255.50,149.91 L256.00,149.34 L256.50,148.77 L257.00,148.19 L257.50,147.61 L258.00,147.01 L258.50,146.42 L259.00,145.81 L259.50,145.21 L260.00,144.59 L260.50,143.98 L261.00,143.35 L261.50,142.73 L262.00,142.10 L262.50,141.46 L263.00,140.82 L263.50,140.18 L264.00,139.53 L264.50,138.88 L265.00,138.23 L265.50,137.58 L266.00,136.92 L266.50,136.25 L267.00,135.59 L267.50,134.92 L268.00,134.26 L268.50,133.59 L269.00,132.91 L269.50,132.24 L270.00,131.56 L270.50,130.89 L271.00,130.21 L271.50,129.53 L272.00,128.85 L272.50,128.17 L273.00,127.49 L273.50,126.81 L274.00,126.14 L274.50,125.46 L275.00,124.78 L275.50,124.10 L276.00,123.42 L276.50,122.75 L277.00,122.07 L277.50,121.40 L278.00,120.73 L278.50,120.06 L279.00,119.40 L279.50,118.74 L280.00,118.08 L280.50,117.43 L281.00,116.78 L281.50,116.13 L282.00,115.49 L282.50,114.86 L283.00,114.22 L283.50,113.60 L284.00,112.98 L284.50,112.37 L285.00,111.76 L285.50,111.16 L286.00,110.57 L286.50,109.98 L287.00,109.40 L287.50,108.83 L288.00,108.27 L288.50,107.72 L289.00,107.17 L289.50,106.64 L290.00,106.11 L290.50,105.60 L291.00,105.09 L291.50,104.59 L292.00,104.11 L292.50,103.63 L293.00,103.17 L293.50,102.72 L294.00,102.28 L294.50,101.85 L295.00,101.43 L295.50,101.03 L296.00,100.64 L296.50,100.26 L297.00,99.89 L297.50,99.54 L298.00,99.21 L298.50,98.89 L299.00,98.58 L299.50,98.29 L300.00,98.01 L300.50,97.75 L301.00,97.50 L301.50,97.27 L302.00,97.06 L302.50,96.86 L303.00,96.68 L303.50,96.52 L304.00,96.38 L304.50,96.25 L305.00,96.14 L305.50,96.05 L306.00,95.98 L306.50,95.93 L307.00,95.90 L307.50,95.88 L308.00,95.89 L308.50,95.92 L309.00,95.97 L309.50,96.04 L310.00,96.12 L310.50,96.23 L311.00,96.36 L311.50,96.51 L312.00,96.68 L312.50,96.87 L313.00,97.08 L313.50,97.30 L314.00,97.55 L314.50,97.81 L315.00,98.09 L315.50,98.38 L316.00,98.70 L316.50,99.03 L317.00,99.38 L317.50,99.74 L318.00,100.12 L318.50,100.52 L319.00,100.93 L319.50,101.36 L320.00,101.80 L320.50,102.26 L321.00,102.73 L321.50,103.21 L322.00,103.71 L322.50,104.23 L323.00,104.75 L323.50,105.29 L324.00,105.84 L324.50,106.41 L325.00,106.99 L325.50,107.57 L326.00,108.18 L326.50,108.79 L327.00,109.41 L327.50,110.04 L328.00,110.69 L328.50,111.34 L329.00,112.01 L329.50,112.68 L330.00,113.37 L330.50,114.06 L331.00,114.76 L331.50,115.47 L332.00,116.19 L332.50,116.92 L333.00,117.65 L333.50,118.39 L334.00,119.14 L334.50,119.90 L335.00,120.66 L335.50,121.43 L336.00,122.20 L336.50,122.98 L337.00,123.77 L337.50,124.56 L338.00,125.36 L338.50,126.16 L339.00,126.97 L339.50,127.78 L340.00,128.59 L340.50,129.41 L341.00,130.23 L341.50,131.06 L342.00,131.89 L342.50,132.73 L343.00,133.57 L343.50,134.41 L344.00,135.26 L344.50,136.11 L345.00,136.96 L345.50,137.82 L346.00,138.68 L346.50,139.54 L347.00,140.41 L347.50,141.28 L348.00,142.15 L348.50,143.03 L349.00,143.90 L349.50,144.78 L350.00,145.67 L350.50,146.55 L351.00,147.44 L351.50,148.33 L352.00,149.22 L352.50,150.12 L353.00,151.01 L353.50,151.91 L354.00,152.81 L354.50,153.71 L355.00,154.61 L355.50,155.52 L356.00,156.42 L356.50,157.33 L357.00,158.24 L357.50,159.15 L358.00,160.06 L358.50,160.97 L359.00,161.88 L359.50,162.79 L360.00,163.71 L360.50,164.62 L361.00,165.53 L361.50,166.45 L362.00,167.36 L362.50,168.28 L363.00,169.19 L363.50,170.11 L364.00,171.02 L364.50,171.93 L365.00,172.85 L365.50,173.76 L366.00,174.67 L366.50,175.59 L367.00,176.50 L367.50,177.41 L368.00,178.32 L368.50,179.23 L369.00,180.13 L369.50,181.04 L370.00,181.94 L370.50,182.84 L371.00,183.75 L371.50,184.64 L372.00,185.54 L372.50,186.43 L373.00,187.32 L373.50,188.21 L374.00,189.10 L374.50,189.98 L375.00,190.86 L375.50,191.73 L376.00,192.61 L376.50,193.47 L377.00,194.34 L377.50,195.20 L378.00,196.05 L378.50,196.90 L379.00,197.75 L379.50,198.59 L380.00,199.43 L380.50,200.26 L381.00,201.08 L381.50,201.90 L382.00,202.71 L382.50,203.52 L383.00,204.32 L383.50,205.12 L384.00,205.91 L384.50,206.69 L385.00,207.47 L385.50,208.24 L386.00,209.00 L386.50,209.75 L387.00,210.50 L387.50,211.24 L388.00,211.97 L388.50,212.69 L389.00,213.41 L389.50,214.12 L390.00,214.81 L390.50,215.51 L391.00,216.19 L391.50,216.86 L392.00,217.53 L392.50,218.19 L393.00,218.84 L393.50,219.49 L394.00,220.12 L394.50,220.75 L395.00,221.38 L395.50,221.99 L396.00,222.60 L396.50,223.20 L397.00,223.79 L397.50,224.37 L398.00,224.95 L398.50,225.52 L399.00,226.08 L399.50,226.64 L400.00,227.19 L400.50,227.73 L401.00,228.27 L401.50,228.79 L402.00,229.32 L402.50,229.83 L403.00,230.34 L403.50,230.84 L404.00,231.33 L404.50,231.82 L405.00,232.30 L405.50,232.78 L406.00,233.25 L406.50,233.71 L407.00,234.16 L407.50,234.61 L408.00,235.05 L408.50,235.49 L409.00,235.92 L409.50,236.34 L410.00,236.75 L410.50,237.16 L411.00,237.57 L411.50,237.97 L412.00,238.36 L412.50,238.74 L413.00,239.12 L413.50,239.49 L414.00,239.86 L414.50,240.22 L415.00,240.57 L415.50,240.92 L416.00,241.26 L416.50,241.60 L417.00,241.93 L417.50,242.25 L418.00,242.57 L418.50,242.88 L419.00,243.19 L419.50,243.49 L420.00,243.78 L420.50,244.07 L421.00,244.35 L421.50,244.63 L422.00,244.90 L422.50,245.17 L423.00,245.43 L423.50,245.68 L424.00,245.93 L424.50,246.17 L425.00,246.41 L425.50,246.64 L426.00,246.87 L426.50,247.09 L427.00,247.30 L427.50,247.51 L428.00,247.72 L428.50,247.92 L429.00,248.11 L429.50,248.30 L430.00,248.48 L430.50,248.66 L431.00,248.83 L431.50,249.00 L432.00,249.16 L432.50,249.32 L433.00,249.47 L433.50,249.62 L434.00,249.76 L434.50,249.89 L435.00,250.03 L435.50,250.15 L436.00,250.27 L436.50,250.39 L437.00,250.50 L437.50,250.61 L438.00,250.71 L438.50,250.80 L439.00,250.90 L439.50,250.98 L440.00,251.06 L440.50,251.14 L441.00,251.21 L441.50,251.28 L442.00,251.35 L442.50,251.40 L443.00,251.46 L443.50,251.51 L444.00,251.55 L444.50,251.59 L445.00,251.63 L445.50,251.66 L446.00,251.69 L446.50,251.71 L447.00,251.72 L447.50,251.74 L448.00,251.75 L448.50,251.75 L449.00,251.75 L449.50,251.75 L450.00,251.74 L450.50,251.73 L451.00,251.71 L451.50,251.69 L452.00,251.66 L452.50,251.63 L453.00,251.60 L453.50,251.56 L454.00,251.52 L454.50,251.48 L455.00,251.43 L455.50,251.37 L456.00,251.32 L456.50,251.25 L457.00,251.19 L457.50,251.12 L458.00,251.05 L458.50,250.97 L459.00,250.89 L459.50,250.80 L460.00,250.72 L460.50,250.62 L461.00,250.53 L461.50,250.43 L462.00,250.33 L462.50,250.22 L463.00,250.11 L463.50,250.00 L464.00,249.88 L464.50,249.76 L465.00,249.63 L465.50,249.51 L466.00,249.37 L466.50,249.24 L467.00,249.10" stroke="#e01414" stroke-dasharray="6.6 2.2"/>
<path d="M23.50,279.80 L24.00,279.62 L24.50,279.43 L25.00,279.25 L25.50,279.08 L26.00,278.90 L26.50,278.73 L27.00,278.56 L27.50,278.40 L28.00,278.24 L28.50,278.07 L29.00,277.92 L29.50,277.76 L30.00,277.61 L30.50,277.46 L31.00,277.31 L31.50,277.16 L32.00,277.02 L32.50,276.88 L33.00,276.74 L33.50,276.60 L34.00,276.47 L34.50,276.33 L35.00,276.20 L35.50,276.07 L36.00,275.94 L36.50,275.82 L37.00,275.69 L37.50,275.57 L38.00,275.45 L38.50,275.33 L39.00,275.21 L39.50,275.10 L40.00,274.98 L40.50,274.87 L41.00,274.75 L41.50,274.64 L42.00,274.53 L42.50,274.42 L43.00,274.32 L43.50,274.21 L44.00,274.11 L44.50,274.00 L45.00,273.90 L45.50,273.79 L46.00,273.69 L46.50,273.59 L47.00,273.49 L47.50,273.39 L48.00,273.29 L48.50,273.19 L49.00,273.10 L49.50,273.00 L50.00,272.90 L50.50,272.80 L51.00,272.71 L51.50,272.61 L52.00,272.52 L52.50,272.42 L53.00,272.32 L53.50,272.23 L54.00,272.13 L54.50,272.04 L55.00,271.94 L55.50,271.85 L56.00,271.75 L56.50,271.65 L57.00,271.56 L57.50,271.46 L58.00,271.36 L58.50,271.26 L59.00,271.17 L59.50,271.07 L60.00,270.97 L60.50,270.87 L61.00,270.77 L61.50,270.67 L62.00,270.56 L62.50,270.46 L63.00,270.36 L63.50,270.25 L64.00,270.15 L64.50,270.04 L65.00,269.93 L65.50,269.82 L66.00,269.71 L66.50,269.60 L67.00,269.49 L67.50,269.37 L68.00,269.26 L68.50,269.14 L69.00,269.02 L69.50,268.90 L70.00,268.78 L70.50,268.65 L71.00,268.53 L71.50,268.40 L72.00,268.27 L72.50,268.14 L73.00,268.01 L73.50,267.88 L74.00,267.74 L74.50,267.60 L75.00,267.46 L75.50,267.32 L76.00,267.17 L76.50,267.03 L77.00,266.88 L77.50,266.72 L78.00,266.57 L78.50,266.41 L79.00,266.25 L79.50,266.09 L80.00,265.93 L80.50,265.76 L81.00,265.59 L81.50,265.42 L82.00,265.24 L82.50,265.07 L83.00,264.88 L83.50,264.70 L84.00,264.51 L84.50,264.32 L85.00,264.13 L85.50,263.93 L86.00,263.73 L86.50,263.53 L87.00,263.33 L87.50,263.12 L88.00,262.90 L88.50,262.69 L89.00,262.47 L89.50,262.24 L90.00,262.02 L90.50,261.79 L91.00,261.55 L91.50,261.31 L92.00,261.07 L92.50,260.82 L93.00,260.57 L93.50,260.32 L94.00,260.06 L94.50,259.80 L95.00,259.54 L95.50,259.26 L96.00,258.99 L96.50,258.71 L97.00,258.43 L97.50,258.14 L98.00,257.85 L98.50,257.55 L99.00,257.25 L99.50,256.95 L100.00,256.64 L100.50,256.32 L101.00,256.00 L101.50,255.68 L102.00,255.35 L102.50,255.02 L103.00,254.67 L103.50,254.33 L104.00,253.97 L104.50,253.61 L105.00,253.24 L105.50,252.87 L106.00,252.48 L106.50,252.08 L107.00,251.68 L107.50,251.27 L108.00,250.84 L108.50,250.41 L109.00,249.97 L109.50,249.51 L110.00,249.04 L110.50,248.56 L111.00,248.07 L111.50,247.56 L112.00,247.04 L112.50,246.51 L113.00,245.96 L113.50,245.40 L114.00,244.82 L114.50,244.23 L115.00,243.62 L115.50,243.00 L116.00,242.36 L116.50,241.70 L117.00,241.02 L117.50,240.33 L118.00,239.62 L118.50,238.89 L119.00,238.14 L119.50,237.38 L120.00,236.60 L120.50,235.81 L121.00,235.00 L121.50,234.18 L122.00,233.35 L122.50,232.51 L123.00,231.66 L123.50,230.81 L124.00,229.94 L124.50,229.07 L125.00,228.20 L125.50,227.31 L126.00,226.43 L126.50,225.55 L127.00,224.66 L127.50,223.77 L128.00,222.88 L128.50,222.00 L129.00,221.12 L129.50,220.24 L130.00,219.36 L130.50,218.49 L131.00,217.63 L131.50,216.78 L132.00,215.93 L132.50,215.10 L133.00,214.27 L133.50,213.46 L134.00,212.65 L134.50,211.86 L135.00,211.08 L135.50,210.31 L136.00,209.56 L136.50,208.82 L137.00,208.09 L137.50,207.38 L138.00,206.68 L138.50,205.99 L139.00,205.32 L139.50,204.67 L140.00,204.03 L140.50,203.41 L141.00,202.80 L141.50,202.21 L142.00,201.64 L142.50,201.09 L143.00,200.55 L143.50,200.04 L144.00,199.54 L144.50,199.06 L145.00,198.60 L145.50,198.17 L146.00,197.75 L146.50,197.35 L147.00,196.98 L147.50,196.62 L148.00,196.29 L148.50,195.98 L149.00,195.70 L149.50,195.43 L150.00,195.20 L150.50,194.98 L151.00,194.79 L151.50,194.62 L152.00,194.48 L152.50,194.36 L153.00,194.27 L153.50,194.19 L154.00,194.14 L154.50,194.11 L155.00,194.10 L155.50,194.10 L156.00,194.13 L156.50,194.17 L157.00,194.23 L157.50,194.31 L158.00,194.40 L158.50,194.51 L159.00,194.63 L159.50,194.76 L160.00,194.91 L160.50,195.07 L161.00,195.24 L161.50,195.42 L162.00,195.62 L162.50,195.82 L163.00,196.03 L163.50,196.25 L164.00,196.47 L164.50,196.71 L165.00,196.95 L165.50,197.20 L166.00,197.45 L166.50,197.71 L167.00,197.98 L167.50,198.25 L168.00,198.53 L168.50,198.81 L169.00,199.10 L169.50,199.39 L170.00,199.68 L170.50,199.97 L171.00,200.27 L171.50,200.57 L172.00,200.87 L172.50,201.18 L173.00,201.48 L173.50,201.78 L174.00,202.09 L174.50,202.39 L175.00,202.70 L175.50,203.00 L176.00,203.30 L176.50,203.60 L177.00,203.90 L177.50,204.19 L178.00,204.48 L178.50,204.77 L179.00,205.05 L179.50,205.33 L180.00,205.61 L180.50,205.88 L181.00,206.14 L181.50,206.40 L182.00,206.65 L182.50,206.90 L183.00,207.15 L183.50,207.39 L184.00,207.62 L184.50,207.85 L185.00,208.08 L185.50,208.30 L186.00,208.52 L186.50,208.73 L187.00,208.93 L187.50,209.13 L188.00,209.33 L188.50,209.52 L189.00,209.71 L189.50,209.90 L190.00,210.07 L190.50,210.25 L191.00,210.42 L191.50,210.58 L192.00,210.74 L192.50,210.90 L193.00,211.05 L193.50,211.20 L194.00,211.34 L194.50,211.48 L195.00,211.62 L195.50,211.75 L196.00,211.87 L196.50,211.99 L197.00,212.11 L197.50,212.23 L198.00,212.34 L198.50,212.44 L199.00,212.54 L199.50,212.64 L200.00,212.73 L200.50,212.82 L201.00,212.91 L201.50,212.99 L202.00,213.07 L202.50,213.14 L203.00,213.21 L203.50,213.28 L204.00,213.34 L204.50,213.40 L205.00,213.45 L205.50,213.51 L206.00,213.55 L206.50,213.60 L207.00,213.64 L207.50,213.67 L208.00,213.71 L208.50,213.74 L209.00,213.76 L209.50,213.78 L210.00,213.80 L210.50,213.82 L211.00,213.83 L211.50,213.84 L212.00,213.85 L212.50,213.85 L213.00,213.85 L213.50,213.84 L214.00,213.84 L214.50,213.82 L215.00,213.81 L215.50,213.79 L216.00,213.77 L216.50,213.75 L217.00,213.72 L217.50,213.69 L218.00,213.66 L218.50,213.63 L219.00,213.59 L219.50,213.55 L220.00,213.50 L220.50,213.45 L221.00,213.40 L221.50,213.35 L222.00,213.30 L222.50,213.24 L223.00,213.18 L223.50,213.11 L224.00,213.05 L224.50,212.98 L225.00,212.90 L225.50,212.83 L226.00,212.75 L226.50,212.67 L227.00,212.59 L227.50,212.51 L228.00,212.42 L228.50,212.33 L229.00,212.24 L229.50,212.14 L230.00,212.05 L230.50,211.95 L231.00,211.84 L231.50,211.74 L232.00,211.63 L232.50,211.53 L233.00,211.42 L233.50,211.30 L234.00,211.19 L234.50,211.07 L235.00,210.95 L235.50,210.83 L236.00,210.71 L236.50,210.58 L237.00,210.46 L237.50,210.33 L238.00,210.20 L238.50,210.06 L239.00,209.93 L239.50,209.79 L240.00,209.65 L240.50,209.51 L241.00,209.37 L241.50,209.22 L242.00,209.07 L242.50,208.92 L243.00,208.77 L243.50,208.61 L244.00,208.46 L244.50,208.30 L245.00,208.14 L245.50,207.97 L246.00,207.80 L246.50,207.63 L247.00,207.46 L247.50,207.29 L248.00,207.11 L248.50,206.93 L249.00,206.74 L249.50,206.56 L250.00,206.37 L250.50,206.18 L251.00,205.98 L251.50,205.78 L252.00,205.58 L252.50,205.38 L253.00,205.17 L253.50,204.96 L254.00,204.75 L254.50,204.53 L255.00,204.31 L255.50,204.09 L256.00,203.86 L256.50,203.63 L257.00,203.40 L257.50,203.16 L258.00,202.92 L258.50,202.68 L259.00,202.43 L259.50,202.18 L260.00,201.93 L260.50,201.67 L261.00,201.41 L261.50,201.14 L262.00,200.87 L262.50,200.60 L263.00,200.33 L263.50,200.04 L264.00,199.76 L264.50,199.47 L265.00,199.18 L265.50,198.88 L266.00,198.58 L266.50,198.28 L267.00,197.97 L267.50,197.66 L268.00,197.34 L268.50,197.02 L269.00,196.69 L269.50,196.37 L270.00,196.03 L270.50,195.70 L271.00,195.36 L271.50,195.02 L272.00,194.68 L272.50,194.33 L273.00,193.98 L273.50,193.63 L274.00,193.28 L274.50,192.93 L275.00,192.57 L275.50,192.22 L276.00,191.86 L276.50,191.50 L277.00,191.14 L277.50,190.79 L278.00,190.43 L278.50,190.07 L279.00,189.71 L279.50,189.35 L280.00,188.99 L280.50,188.63 L281.00,188.28 L281.50,187.92 L282.00,187.57 L282.50,187.21 L283.00,186.86 L283.50,186.51 L284.00,186.17 L284.50,185.82 L285.00,185.48 L285.50,185.14 L286.00,184.80 L286.50,184.47 L287.00,184.14 L287.50,183.81 L288.00,183.49 L288.50,183.17 L289.00,182.85 L289.50,182.54 L290.00,182.24 L290.50,181.93 L291.00,181.64 L291.50,181.34 L292.00,181.06 L292.50,180.78 L293.00,180.50 L293.50,180.23 L294.00,179.97 L294.50,179.71 L295.00,179.46 L295.50,179.21 L296.00,178.97 L296.50,178.74 L297.00,178.52 L297.50,178.30 L298.00,178.09 L298.50,177.88 L299.00,177.69 L299.50,177.50 L300.00,177.31 L300.50,177.13 L301.00,176.96 L301.50,176.80 L302.00,176.64 L302.50,176.49 L303.00,176.35 L303.50,176.21 L304.00,176.08 L304.50,175.95 L305.00,175.84 L305.50,175.72 L306.00,175.62 L306.50,175.52 L307.00,175.43 L307.50,175.34 L308.00,175.26 L308.50,175.19 L309.00,175.12 L309.50,175.06 L310.00,175.00 L310.50,174.95 L311.00,174.91 L311.50,174.87 L312.00,174.84 L312.50,174.82 L313.00,174.80 L313.50,174.79 L314.00,174.78 L314.50,174.78 L315.00,174.79 L315.50,174.80 L316.00,174.82 L316.50,174.84 L317.00,174.87 L317.50,174.91 L318.00,174.95 L318.50,175.00 L319.00,175.05 L319.50,175.11 L320.00,175.18 L320.50,175.25 L321.00,175.32 L321.50,175.40 L322.00,175.49 L322.50,175.59 L323.00,175.68 L323.50,175.79 L324.00,175.90 L324.50,176.02 L325.00,176.14 L325.50,176.26 L326.00,176.40 L326.50,176.53 L327.00,176.68 L327.50,176.83 L328.00,176.98 L328.50,177.14 L329.00,177.30 L329.50,177.47 L330.00,177.65 L330.50,177.83 L331.00,178.02 L331.50,178.21 L332.00,178.40 L332.50,178.61 L333.00,178.81 L333.50,179.03 L334.00,179.24 L334.50,179.46 L335.00,179.69 L335.50,179.92 L336.00,180.16 L336.50,180.40 L337.00,180.65 L337.50,180.90 L338.00,181.16 L338.50,181.42 L339.00,181.69 L339.50,181.96 L340.00,182.24 L340.50,182.52 L341.00,182.81 L341.50,183.10 L342.00,183.40 L342.50,183.70 L343.00,184.00 L343.50,184.31 L344.00,184.63 L344.50,184.95 L345.00,185.27 L345.50,185.60 L346.00,185.94 L346.50,186.27 L347.00,186.62 L347.50,186.96 L348.00,187.31 L348.50,187.67 L349.00,188.03 L349.50,188.39 L350.00,188.76 L350.50,189.13 L351.00,189.50 L351.50,189.88 L352.00,190.26 L352.50,190.64 L353.00,191.03 L353.50,191.42 L354.00,191.81 L354.50,192.21 L355.00,192.61 L355.50,193.01 L356.00,193.41 L356.50,193.82 L357.00,194.23 L357.50,194.64 L358.00,195.05 L358.50,195.47 L359.00,195.88 L359.50,196.30 L360.00,196.72 L360.50,197.14 L361.00,197.57 L361.50,197.99 L362.00,198.42 L362.50,198.84 L363.00,199.27 L363.50,199.70 L364.00,200.13 L364.50,200.56 L365.00,200.99 L365.50,201.42 L366.00,201.85 L366.50,202.29 L367.00,202.72 L367.50,203.15 L368.00,203.59 L368.50,204.02 L369.00,204.45 L369.50,204.88 L370.00,205.31 L370.50,205.74 L371.00,206.18 L371.50,206.60 L372.00,207.03 L372.50,207.46 L373.00,207.89 L373.50,208.32 L374.00,208.74 L374.50,209.17 L375.00,209.60 L375.50,210.02 L376.00,210.45 L376.50,210.87 L377.00,211.30 L377.50,211.72 L378.00,212.15 L378.50,212.57 L379.00,213.00 L379.50,213.43 L380.00,213.85 L380.50,214.28 L381.00,214.71 L381.50,215.14 L382.00,215.57 L382.50,216.00 L383.00,216.43 L383.50,216.86 L384.00,217.29 L384.50,217.73 L385.00,218.16 L385.50,218.60 L386.00,219.04 L386.50,219.47 L387.00,219.92 L387.50,220.36 L388.00,220.80 L388.50,221.25 L389.00,221.69 L389.50,222.14 L390.00,222.59 L390.50,223.05 L391.00,223.50 L391.50,223.96 L392.00,224.42 L392.50,224.87 L393.00,225.33 L393.50,225.80 L394.00,226.26 L394.50,226.72 L395.00,227.18 L395.50,227.64 L396.00,228.11 L396.50,228.57 L397.00,229.03 L397.50,229.49 L398.00,229.95 L398.50,230.41 L399.00,230.87 L399.50,231.33 L400.00,231.78 L400.50,232.24 L401.00,232.69 L401.50,233.14 L402.00,233.59 L402.50,234.03 L403.00,234.47 L403.50,234.91 L404.00,235.35 L404.50,235.78 L405.00,236.21 L405.50,236.63 L406.00,237.05 L406.50,237.47 L407.00,237.88 L407.50,238.29 L408.00,238.70 L408.50,239.10 L409.00,239.49 L409.50,239.88 L410.00,240.26 L410.50,240.64 L411.00,241.02 L411.50,241.38 L412.00,241.75 L412.50,242.11 L413.00,242.46 L413.50,242.81 L414.00,243.15 L414.50,243.49 L415.00,243.82 L415.50,244.15 L416.00,244.47 L416.50,244.78 L417.00,245.09 L417.50,245.40 L418.00,245.70 L418.50,245.99 L419.00,246.28 L419.50,246.56 L420.00,246.84 L420.50,247.11 L421.00,247.38 L421.50,247.64 L422.00,247.90 L422.50,248.15 L423.00,248.39 L423.50,248.63 L424.00,248.86 L424.50,249.09 L425.00,249.31 L425.50,249.53 L426.00,249.74 L426.50,249.94 L427.00,250.14 L427.50,250.33 L428.00,250.52 L428.50,250.70 L429.00,250.87 L429.50,251.04 L430.00,251.20 L430.50,251.36 L431.00,251.51 L431.50,251.65 L432.00,251.79 L432.50,251.92 L433.00,252.05 L433.50,252.17 L434.00,252.28 L434.50,252.39 L435.00,252.49 L435.50,252.58 L436.00,252.67 L436.50,252.75 L437.00,252.83 L437.50,252.90 L438.00,252.96 L438.50,253.02 L439.00,253.07 L439.50,253.12 L440.00,253.15 L440.50,253.19 L441.00,253.22 L441.50,253.24 L442.00,253.26 L442.50,253.27 L443.00,253.28 L443.50,253.28 L444.00,253.28 L444.50,253.28 L445.00,253.27 L445.50,253.26 L446.00,253.25 L446.50,253.23 L447.00,253.21 L447.50,253.19 L448.00,253.16 L448.50,253.13 L449.00,253.10 L449.50,253.07 L450.00,253.04 L450.50,253.01 L451.00,252.97 L451.50,252.93 L452.00,252.90 L452.50,252.86 L453.00,252.82 L453.50,252.78 L454.00,252.74 L454.50,252.70 L455.00,252.66 L455.50,252.63 L456.00,252.59 L456.50,252.56 L457.00,252.52 L457.50,252.49 L458.00,252.46 L458.50,252.43 L459.00,252.40 L459.50,252.38 L460.00,252.35 L460.50,252.33 L461.00,252.32 L461.50,252.30 L462.00,252.29 L462.50,252.28 L463.00,252.28 L463.50,252.28 L464.00,252.29 L464.50,252.30 L465.00,252.31 L465.50,252.33 L466.00,252.35 L466.50,252.38 L467.00,252.41" stroke="#17a04c" stroke-dasharray="0.00 0.00 25.37 6.95 33.89 6.97 17.79 6.87 17.87 0.80 18.10 5.16 18.11 7.03 18.27 6.74 17.38 4.19 17.43 7.02 17.39 7.46 17.05 6.98 18.50 6.90 17.00 3.63 17.61 6.52 17.95 7.19 17.83 6.73 17.25 7.06 18.01 7.32 25.88 4.98 20.25 4.81 6.60 50.00"/>
</g>
</svg>
</body></html>
